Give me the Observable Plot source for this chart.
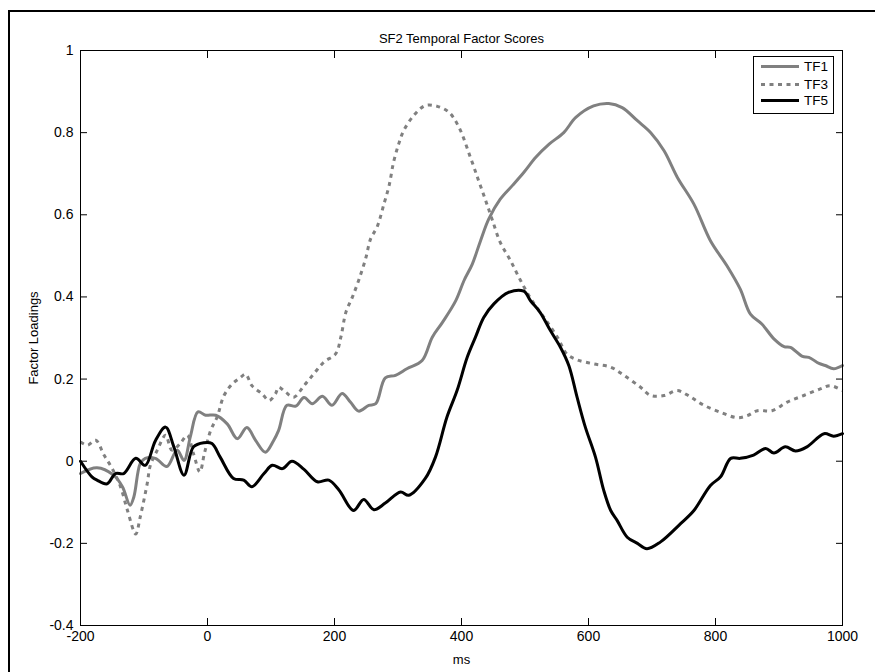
<!DOCTYPE html>
<html>
<head>
<meta charset="utf-8">
<script src="https://cdn.jsdelivr.net/npm/d3@7"></script>
<script src="https://cdn.jsdelivr.net/npm/@observablehq/plot@0.6"></script>
<style>
  html, body { margin: 0; padding: 0; background: #fff; overflow: hidden; }
  #wrap { position: relative; width: 875px; height: 672px; }
  #outer { position: absolute; left: 8px; top: 10px; width: 900px; height: 700px;
           border-top: 2px solid #000; border-left: 2px solid #000; pointer-events: none; }
  #chart svg { display: block; }
</style>
</head>
<body>
<div id="wrap"><div id="chart"></div><div id="outer"></div></div>
<script>
const title = "SF2 Temporal Factor Scores";
const xLabel = "ms";
const yLabel = "Factor Loadings";
const seriesNames = ["TF1", "TF3", "TF5"];

const xTicks = [-200, 0, 200, 400, 600, 800, 1000];
const xTickLabels = ["-200", "0", "200", "400", "600", "800", "1000"];
const yTicks = [-0.4, -0.2, 0, 0.2, 0.4, 0.6, 0.8, 1];
const yTickLabels = ["-0.4", "-0.2", "0", "0.2", "0.4", "0.6", "0.8", "1"];

const tf1Ms  = [-200,-174,-148,-134,-122,-116,-106,-98,-82,-64,-48,-37,-27,-15,-3,13,31,47,62,76,91,104,112,125,139,152,165,181,196,212,225,238,254,265,280,296,314,338,354,370,391,404,417,430,443,461,480,498,517,538,561,580,608,632,653,677,698,719,740,766,792,818,839,855,873,892,908,918,937,947,963,973,986,1000];
const tf1Val = [-0.03,-0.016,-0.034,-0.062,-0.107,-0.087,-0.006,0.007,0.007,-0.013,0.027,0.002,0.06,0.12,0.112,0.112,0.091,0.055,0.082,0.05,0.022,0.05,0.075,0.136,0.134,0.155,0.14,0.158,0.136,0.165,0.144,0.122,0.136,0.14,0.203,0.209,0.225,0.245,0.302,0.338,0.391,0.44,0.48,0.537,0.59,0.638,0.671,0.703,0.74,0.772,0.8,0.837,0.865,0.871,0.861,0.829,0.8,0.756,0.691,0.626,0.537,0.476,0.419,0.358,0.334,0.298,0.279,0.277,0.255,0.253,0.238,0.233,0.225,0.233];

const tf3Ms  = [-200,-189,-176,-163,-150,-137,-126,-113,-106,-95,-90,-79,-66,-56,-43,-32,-22,-12,-5,5,15,26,39,52,60,70,86,97,107,112,123,136,152,167,183,202,210,218,228,238,249,257,267,278,286,293,301,309,325,343,362,380,396,414,427,438,448,461,477,493,511,530,551,566,582,608,635,656,682,698,719,740,761,782,808,834,850,866,889,913,939,965,981,1000];
const tf3Val = [0.047,0.039,0.051,0.015,-0.018,-0.062,-0.12,-0.177,-0.136,-0.055,-0.01,0.027,0.063,0.027,0.043,0.063,0.018,-0.026,0.018,0.075,0.107,0.16,0.188,0.204,0.212,0.184,0.164,0.148,0.164,0.18,0.168,0.156,0.184,0.212,0.241,0.262,0.302,0.363,0.399,0.44,0.493,0.542,0.57,0.627,0.671,0.728,0.772,0.805,0.842,0.866,0.864,0.85,0.813,0.74,0.683,0.635,0.59,0.533,0.489,0.44,0.391,0.35,0.302,0.261,0.247,0.237,0.229,0.209,0.18,0.16,0.16,0.172,0.156,0.136,0.119,0.106,0.111,0.123,0.123,0.144,0.16,0.176,0.184,0.172];

const tf5Ms  = [-200,-182,-174,-158,-145,-132,-113,-98,-82,-66,-53,-37,-22,-6,7,20,41,57,70,89,102,118,133,152,173,191,207,230,246,262,280,304,317,343,359,377,393,409,422,435,451,474,498,509,524,540,556,569,582,595,611,624,635,645,661,677,692,713,745,766,792,808,824,839,860,879,892,910,926,944,971,986,1000];
const tf5Val = [0.0,-0.038,-0.046,-0.055,-0.03,-0.03,0.007,-0.01,0.05,0.083,0.035,-0.034,0.035,0.045,0.043,0.01,-0.042,-0.046,-0.062,-0.03,-0.01,-0.018,0.0,-0.02,-0.05,-0.046,-0.07,-0.12,-0.093,-0.118,-0.102,-0.075,-0.083,-0.042,0.01,0.107,0.172,0.253,0.302,0.35,0.383,0.411,0.414,0.39,0.362,0.318,0.277,0.233,0.156,0.083,0.01,-0.071,-0.12,-0.144,-0.185,-0.2,-0.213,-0.197,-0.152,-0.12,-0.059,-0.038,0.007,0.007,0.015,0.031,0.02,0.035,0.025,0.035,0.067,0.061,0.067];

const lineStyles = {
  TF1: {stroke: "#808080", dash: null},
  TF3: {stroke: "#808080", dash: "4,4.5"},
  TF5: {stroke: "#000000", dash: null}
};

const toRows = (ms, val) => ms.map((m, i) => ({ms: m, v: val[i]}));
const seriesData = {TF1: toRows(tf1Ms, tf1Val), TF3: toRows(tf3Ms, tf3Val), TF5: toRows(tf5Ms, tf5Val)};

const fontStack = "'Liberation Sans', Arial, Helvetica, sans-serif";

const lineMarks = seriesNames.map(name => Plot.line(seriesData[name], {
  x: "ms", y: "v", curve: "catmull-rom",
  stroke: lineStyles[name].stroke, strokeWidth: 3,
  strokeDasharray: lineStyles[name].dash || undefined,
  strokeLinecap: lineStyles[name].dash ? "butt" : "round",
  strokeLinejoin: "round"
}));

const chart = Plot.plot({
  width: 875, height: 672,
  marginLeft: 80, marginRight: 33, marginTop: 50, marginBottom: 47,
  style: {fontFamily: fontStack, fontSize: "14px", color: "#000", background: "transparent"},
  x: {domain: [-200, 1000]},
  y: {domain: [-0.4, 1]},
  marks: [
    ...lineMarks,
    Plot.frame({stroke: "#000", strokeWidth: 1}),
    Plot.axisX({anchor: "bottom", ticks: xTicks, tickFormat: d => xTickLabels[xTicks.indexOf(d)], tickSize: -7, tickPadding: 13, label: null, stroke: "#000", fontSize: 14}),
    Plot.axisX({anchor: "top", ticks: xTicks, tickFormat: () => "", tickSize: -7, label: null, stroke: "#000"}),
    Plot.axisY({anchor: "left", ticks: yTicks, tickFormat: d => yTickLabels[yTicks.findIndex(t => Math.abs(t - d) < 1e-9)], tickSize: -7, tickPadding: 14, label: null, stroke: "#000", fontSize: 14}),
    Plot.axisY({anchor: "right", ticks: yTicks, tickFormat: () => "", tickSize: -7, label: null, stroke: "#000"}),
    Plot.text([title], {text: d => d, frameAnchor: "top", dy: -12, textAnchor: "middle", lineAnchor: "middle", fontSize: 13, fill: "#000"}),
    Plot.text([xLabel], {text: d => d, frameAnchor: "bottom", dy: 34, textAnchor: "middle", lineAnchor: "middle", fontSize: 13, fill: "#000"}),
    Plot.text([yLabel], {text: d => d, frameAnchor: "left", dx: -47, rotate: -90, textAnchor: "middle", lineAnchor: "middle", fontSize: 13, fill: "#000"})
  ]
});

document.getElementById("chart").appendChild(chart);

// Legend (MATLAB-style box in the top-right corner of the axes)
const sx = chart.scale("x"), sy = chart.scale("y");
const plotRight = Math.max(...sx.range), plotTop = Math.min(...sy.range);
const boxW = 80, boxH = 57;
const bx = plotRight - 9 - boxW, by = plotTop + 6;
const legendG = d3.select(chart).append("g")
  .attr("font-family", fontStack).attr("font-size", 13.5).attr("text-anchor", "start");
legendG.append("rect").attr("x", bx + 0.5).attr("y", by + 0.5).attr("width", boxW).attr("height", boxH)
  .attr("fill", "#fff").attr("stroke", "#000").attr("stroke-width", 1);
const rowY = [10.5, 28.5, 44.5];
seriesNames.forEach((name, i) => {
  const ly = by + rowY[i];
  legendG.append("line").attr("x1", bx + 8).attr("x2", bx + 46).attr("y1", ly).attr("y2", ly)
    .attr("stroke", lineStyles[name].stroke).attr("stroke-width", 3)
    .attr("stroke-dasharray", lineStyles[name].dash || null);
  legendG.append("text").attr("x", bx + 51).attr("y", ly).attr("dy", "0.35em")
    .attr("text-anchor", "start").attr("fill", "#000").text(name);
});
</script>
</body>
</html>
